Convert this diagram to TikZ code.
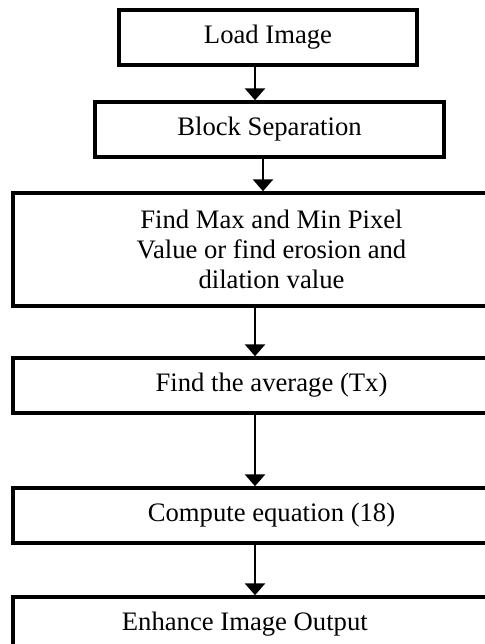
\documentclass[tikz,border=0pt]{standalone}
\usepackage{fontspec}
\setmainfont{Liberation Serif}
\usetikzlibrary{arrows.meta}

\tikzset{
  stage/.style={draw, line width=2.6pt, rectangle, inner sep=0pt, align=center,
    font=\fontsize{20}{22.5}\selectfont, minimum height=41.25pt},
  flow/.style={line width=2.2pt, -{Triangle[width=15pt, length=9pt]}}
}

\begin{document}
\begin{tikzpicture}[x=0.75pt,y=0.75pt,yscale=-1,xscale=1]
\useasboundingbox (0,0) rectangle (485,644);
\clip (0,0) rectangle (485,644);

% Boxes
\node [stage, line width=3pt, minimum width=223.5pt] (load) at (268,37.5) {Load Image};
\node [stage, minimum width=261.75pt] (block) at (269.5,129.5) {Block Separation};
\node [stage, minimum width=387.75pt, minimum height=84.75pt] (minmax) at (271.5,249.5) {Find Max and Min Pixel\\Value or find erosion and\\dilation value};
\node [stage, minimum width=387.75pt] (avg) at (271.5,385.5) {Find the average (Tx)};
\node [stage, minimum width=387.75pt] (eqn) at (271.5,515.5) {Compute equation (18)};
\node [stage, minimum width=387.75pt] (out) at (271.5,624.5) {\hspace*{-40pt}Enhance Image Output};

% arrow axes
\coordinate (ax) at (255,0);
\coordinate (bx) at (263,0);

% Arrows
\draw [flow] (load.south -| ax) -- (block.north -| ax);
\draw [flow] (block.south -| bx) -- (minmax.north -| bx);
\draw [flow] (minmax.south -| ax) -- (avg.north -| ax);
\draw [flow] (avg.south -| ax) -- (eqn.north -| ax);
\draw [flow] (eqn.south -| ax) -- (out.north -| ax);

\end{tikzpicture}
\end{document}
